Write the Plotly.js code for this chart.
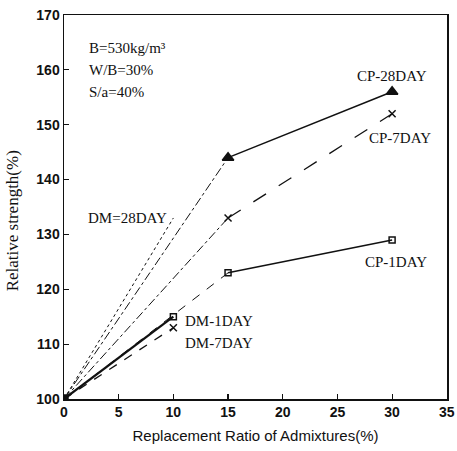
<!DOCTYPE html>
<html>
<head>
<meta charset="utf-8">
<script src="https://cdn.plot.ly/plotly-3.0.1.min.js"></script>
<style>html,body{margin:0;padding:0;background:#fff;}#chart{width:457px;height:451px;}</style>
</head>
<body>
<div id="chart"></div>
<script>
// Data
const xCP = [0, 15, 30];
const cp28 = [100, 144, 156];
const cp7 = [100, 133, 152];
const cp1 = [100, 123, 129];
const xDM = [0, 10];
const dm28 = [100, 133];
const dm7 = [100, 113];
const dm1 = [100, 115];
const xTicks = [0, 5, 10, 15, 20, 25, 30, 35];
const yTicks = [100, 110, 120, 130, 140, 150, 160, 170];

const K = '#111';
function seg(x, y, dash, width) {
  return {x: x, y: y, mode: 'lines', line: {color: K, dash: dash, width: width}, hoverinfo: 'skip', showlegend: false};
}
function mk(x, y, symbol, size) {
  return {x: x, y: y, mode: 'markers', marker: {color: K, symbol: symbol, size: size, line: {color: K, width: 1.5}}, hoverinfo: 'skip', showlegend: false};
}

const traces = [
  seg(xCP.slice(0, 2), cp28.slice(0, 2), 'dashdot', 1),
  seg(xCP.slice(1), cp28.slice(1), 'solid', 1.5),
  seg(xCP.slice(0, 2), cp7.slice(0, 2), 'dashdot', 1),
  seg(xCP.slice(1), cp7.slice(1), 'longdash', 1.3),
  seg(xCP.slice(0, 2), cp1.slice(0, 2), 'dash', 1),
  seg(xCP.slice(1), cp1.slice(1), 'solid', 1.5),
  seg(xDM, dm28, 'dot', 1),
  seg(xDM, dm7, 'dash', 1.3),
  seg(xDM, dm1, 'solid', 2.2),
  mk(xCP.slice(1), cp28.slice(1), 'triangle-up', 10),
  mk(xCP.slice(1), cp7.slice(1), 'x-thin', 7),
  mk(xCP.slice(1), cp1.slice(1), 'square-open', 6),
  mk(xDM.slice(1), dm7.slice(1), 'x-thin', 7),
  mk(xDM.slice(1), dm1.slice(1), 'square-open', 6),
  mk([xCP[0]], [cp28[0]], 'square', 8)
];

const serif = 'Liberation Serif, Times New Roman, serif';
function lab(text, x, y) {
  return {text: text, x: x, y: y, xref: 'x', yref: 'y', xanchor: 'left', yanchor: 'middle', showarrow: false,
          font: {family: serif, size: 15, color: K}};
}

const tickFont = {family: 'Liberation Sans, Arial, sans-serif', size: 14, color: K, weight: 'bold'};

const layout = {
  width: 457, height: 451,
  margin: {l: 64, r: 10, t: 15, b: 52},
  paper_bgcolor: '#fff', plot_bgcolor: '#fff',
  showlegend: false,
  xaxis: {
    range: [0, 35.02], tickvals: xTicks, ticktext: xTicks.map(String),
    ticks: 'inside', ticklen: 5, tickwidth: 1.2, tickcolor: K,
    showline: true, linecolor: K, linewidth: 1.5, mirror: true,
    showgrid: false, zeroline: false, ticklabeloverflow: 'allow',
    tickfont: tickFont,
    title: {text: 'Replacement Ratio of Admixtures(%)', standoff: 11,
            font: {family: 'Liberation Sans, Arial, sans-serif', size: 15, color: K}}
  },
  yaxis: {
    range: [100, 170], tickvals: yTicks, ticktext: yTicks.map(String),
    ticks: 'inside', ticklen: 5, tickwidth: 1.2, tickcolor: K,
    showline: true, linecolor: K, linewidth: 1.5, mirror: true,
    showgrid: false, zeroline: false,
    tickfont: tickFont
  },
  annotations: [
    {text: 'Relative strength(%)', x: -0.135, y: 0.4635, xref: 'paper', yref: 'paper',
     xanchor: 'center', yanchor: 'middle', textangle: -90, showarrow: false,
     font: {family: serif, size: 17, color: K}},
    lab('B=530kg/m³', 2.1, 164),
    lab('W/B=30%', 2.1, 160),
    lab('S/a=40%', 2.1, 156),
    lab('CP-28DAY', 26.6, 158.8),
    lab('CP-7DAY', 27.7, 147.5),
    lab('CP-1DAY', 27.3, 125),
    lab('DM=28DAY', 2.0, 133),
    lab('DM-1DAY', 10.9, 114.2),
    lab('DM-7DAY', 10.9, 110.2)
  ]
};

Plotly.newPlot('chart', traces, layout, {staticPlot: true, displayModeBar: false});
</script>
</body>
</html>
